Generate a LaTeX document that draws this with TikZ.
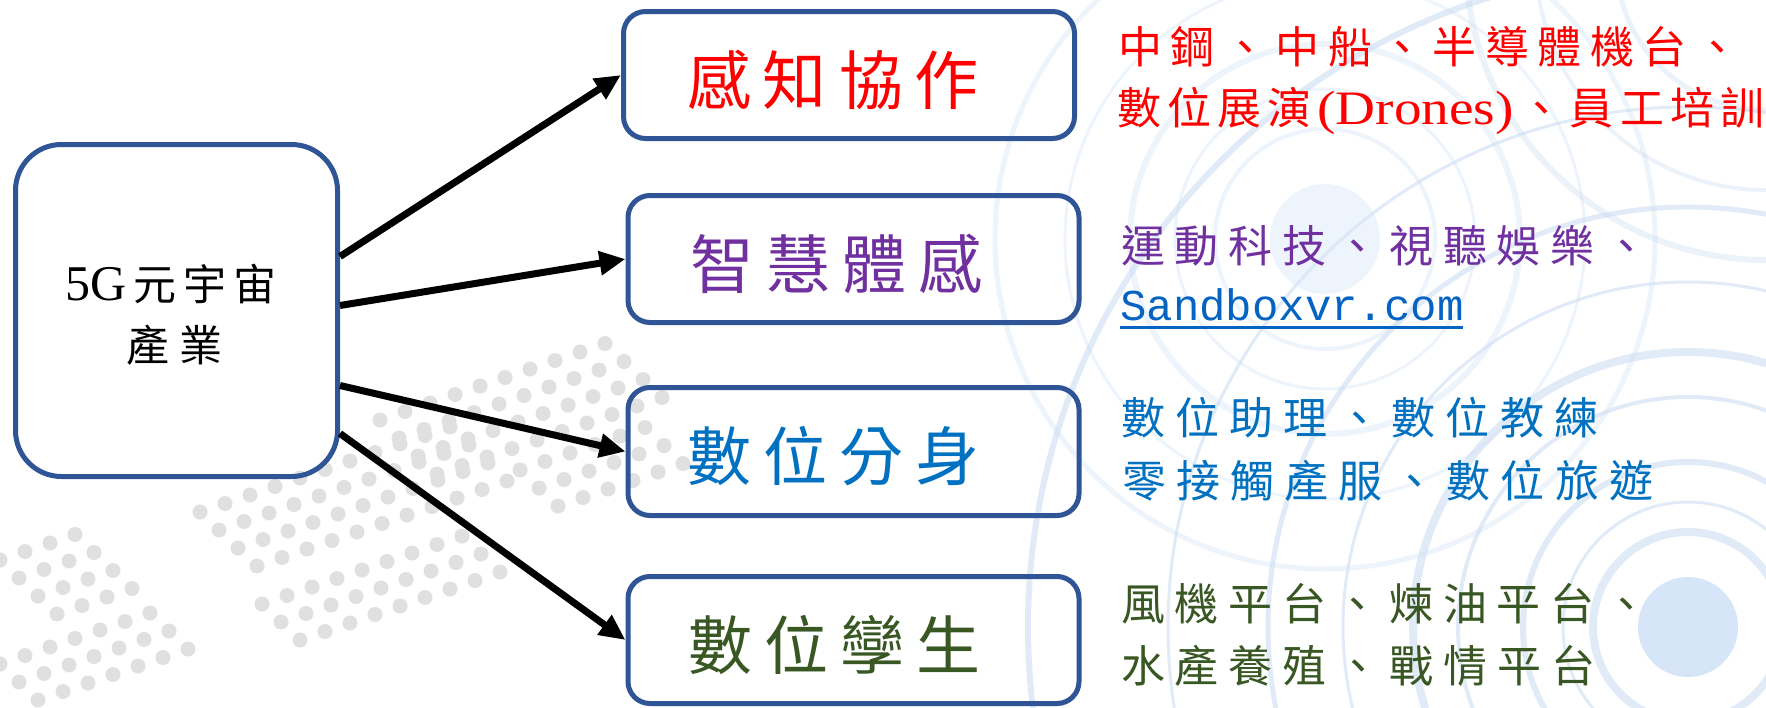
\documentclass[tikz,border=0pt]{standalone}
\usepackage{fontspec}
\usepackage{graphicx}
\setmainfont{Liberation Serif}
\newfontfamily\cjk{Noto Sans CJK TC}
\newfontfamily\monofam{Liberation Mono}
\usetikzlibrary{arrows.meta}
\definecolor{boxblue}{HTML}{2F5597}
\definecolor{tred}{HTML}{FF0000}
\definecolor{tpurple}{HTML}{7030A0}
\definecolor{tblue}{HTML}{0070C0}
\definecolor{tgreen}{HTML}{385723}
\definecolor{linkblue}{HTML}{0563C1}
\definecolor{ringblue}{HTML}{C9DCF2}
\definecolor{diskblue}{HTML}{D6E5F7}
\definecolor{dotgray}{HTML}{E0E0E0}
\newcommand\fsz[1]{\fontsize{#1pt}{#1pt}\selectfont}
\def\myspread#1{\myspreadA#1\relax}
\def\myspreadA#1{#1\futurelet\myspnext\myspreadB}
\def\myspreadB{\ifx\myspnext\relax\expandafter\myspreadEnd\else\hfill\expandafter\myspreadA\fi}
\def\myspreadEnd\relax{}
\newcommand\sline[2]{\makebox[#1pt][l]{\myspread{#2}}}
\tikzset{
  bbox/.style={draw=boxblue, line width=5pt, rounded corners=22pt, minimum width=451pt, minimum height=127pt, inner sep=0pt},
  mainbox/.style={draw=boxblue, line width=5pt, rounded corners=46pt, minimum width=322pt, minimum height=332pt, inner sep=0pt},
  arr/.style={line width=7pt, -{Triangle[length=26pt,width=23pt]}},
  lbl/.style={inner sep=0pt, font=\cjk\fsz{64}},
  rtxt/.style={inner sep=0pt, anchor=west, font=\cjk\fsz{44}},
  ring/.style={draw=ringblue, opacity=0.55}
}
\begin{document}
\begin{tikzpicture}[x=1pt,y=-1pt]
\fill[white] (0,0) rectangle (1766,707);
\useasboundingbox (0,0) rectangle (1766,707);
\begin{scope}
\clip (0,0) rectangle (1766,707);
% grey halftone dots
\foreach \ox/\oy/\n/\m in {380/420/9/3, 200/512/10/3, 262/604/8/2, 0/560/3/3, 0/664/6/2, 520/470/5/2}{
  \foreach \i in {0,...,\n}{
    \foreach \j in {0,...,\m}{
      \fill[dotgray] (\ox+25*\i+19*\j, \oy-8.5*\i+18*\j) circle[radius=7.5];
    }
  }
}
% concentric rings lower right
\fill[diskblue] (1688,627) circle[radius=50];
\foreach \r/\w in {95/8, 125/3, 165/6, 230/4, 275/8, 345/3, 420/5, 520/3, 660/6}{
  \draw[ring, line width=\w pt] (1688,627) circle[radius=\r];
}
% rings around middle
\fill[diskblue, opacity=0.4] (1325,239) circle[radius=55];
\foreach \r/\w in {110/4, 150/3, 195/6, 260/3, 330/5}{
  \draw[ring, opacity=0.3, line width=\w pt] (1325,239) circle[radius=\r];
}
% rings upper right
\foreach \r/\w in {150/5, 230/4, 300/6}{
  \draw[ring, opacity=0.35, line width=\w pt] (1766,-40) circle[radius=\r];
}
\end{scope}

% main box
\node[mainbox] (main) at (176.5,310.5) {};
\node[inner sep=0pt] (m1) at (171,284) {\makebox[212pt][l]{{\fsz{50}5G}\hfill{\cjk\fsz{43}元}\hfill{\cjk\fsz{43}宇}\hfill{\cjk\fsz{43}宙}}};
\node[inner sep=0pt, font=\cjk\fsz{43}] (m2) at (174.5,345) {\sline{97}{產業}};

% boxes
\node[bbox] (b1) at (849,75) {};
\node[bbox] (b2) at (853.5,259) {};
\node[bbox, minimum height=128pt] (b3) at (853.5,451.5) {};
\node[bbox] (b4) at (853.5,640) {};

\node[lbl, text=tred] (t1) at ([xshift=-16pt,yshift=-5pt]b1.center) {\sline{292}{感知協作}};
\node[lbl, text=tpurple] (t2) at ([xshift=-17pt,yshift=-5pt]b2.center) {\sline{292}{智慧體感}};
\node[lbl, text=tblue] (t3) at ([xshift=-20pt,yshift=-5pt]b3.center) {\sline{292}{數位分身}};
\node[lbl, text=tgreen] (t4) at ([xshift=-19pt,yshift=-5pt]b4.center) {\sline{292}{數位孿生}};

% arrows
\draw[arr] ([yshift=54pt]main.east) -- (b1.west);
\draw[arr] ([yshift=5pt]main.east) -- (b2.west);
\draw[arr] ([yshift=-75pt]main.east) -- (b3.west);
\draw[arr] ([yshift=-123pt]main.east) -- (b4.west);

% right texts
\node[rtxt, text=tred] (r1) at (1118,47) {\sline{621}{中鋼、中船、半導體機台、}};
\node[rtxt, text=tred] (r2) at (1117,111) {\sline{647}{數位展演{{\rmfamily\fsz{48}\scalebox{1.15}[1]{(Drones)}}}、員工培訓}};
\node[rtxt, text=tpurple] (r3) at (1121,246) {\sline{527}{運動科技、視聽娛樂、}};
\node[rtxt, text=linkblue, font=\monofam\fsz{44}] (r4) at (1120,309) {\setbox0\hbox{Sandboxvr.com}\rlap{\color{linkblue}\rule[-8pt]{\wd0}{3pt}}\box0};
\node[rtxt, text=tblue] (r5) at (1121,418) {\sline{477}{數位助理、數位教練}};
\node[rtxt, text=tblue] (r6) at (1122,481) {\sline{531}{零接觸產服、數位旅遊}};
\node[rtxt, text=tgreen] (r7) at (1121,604) {\sline{527}{風機平台、煉油平台、}};
\node[rtxt, text=tgreen] (r8) at (1121,666) {\sline{474}{水產養殖、戰情平台}};
\end{tikzpicture}
\end{document}
